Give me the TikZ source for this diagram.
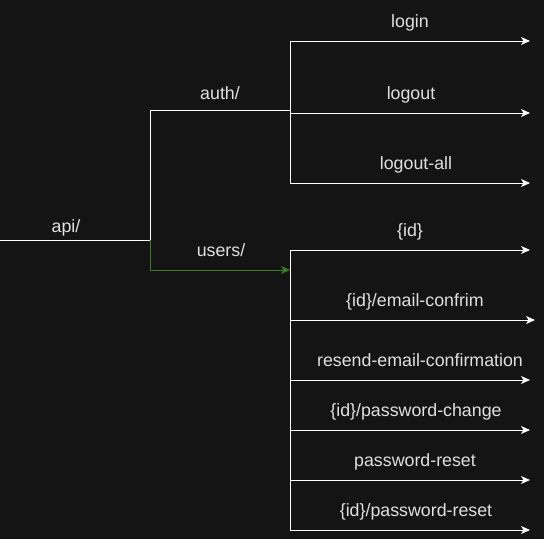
\documentclass[tikz,border=0pt]{standalone}
\usepackage{fontspec}
\setmainfont{Liberation Sans}
\usepackage{xcolor}
\usepackage{tikz}
\usetikzlibrary{arrows.meta,positioning}

\definecolor{bgdark}{HTML}{141414}
\definecolor{routegreen}{HTML}{3A7D22}
\definecolor{labelgrey}{HTML}{E0E0E0}

\begin{document}
\begin{tikzpicture}[x=1pt,y=-1pt,
    route/.style={white,line width=1pt},
    endpoint/.style={route,-{Stealth[length=9pt,width=8pt,inset=2.5pt]}},
    lbl/.style={text=labelgrey,font=\fontsize{17.8}{20}\selectfont,inner sep=0pt,
      text height=0.72em,text depth=0.21em}]
  \fill[bgdark] (0,0) rectangle (544,539);
  \useasboundingbox (0,0) rectangle (544,539);
  % junctions
  \coordinate (root) at (0,240);
  \coordinate (apisplit) at (150,240);
  \coordinate (authbend) at (150,110);
  \coordinate (authbus) at (290,110);
  \coordinate (usersbend) at (150,270);
  \coordinate (usersbus) at (290,270);
  % api/ and auth/
  \draw[route] (root) -- (apisplit) -- (authbend) -- (authbus);
  \node[lbl] (api) at (66,229.5) {api/};
  \node[lbl] (auth) at (220,96.5) {auth/};
  % users/
  \draw[routegreen,line width=1pt,-{Stealth[length=9pt,width=8pt,inset=2.5pt]}]
    (apisplit) -- (usersbend) -- (usersbus);
  \node[lbl] (users) at (221,253.5) {users/};
  % auth/ endpoints
  \foreach \y/\name/\txt/\tx in {41/login/login/410, 113/logout/logout/411,
      183/logoutall/logout-all/416} {
    \coordinate (\name-start) at (290,\y);
    \coordinate (\name-end) at (530,\y);
    \draw[endpoint] (\name-start) -- (\name-end);
    \node[lbl] (\name) at (\tx,\y-16.5) {\txt};
  }
  \draw[route] (login-start) -- (logoutall-start);
  % users/ endpoints
  \foreach \y/\name/\txt/\tx/\ex in {250/byid/{\{id\}}/410/530,
      320/emailconfirm/{\{id\}/email-confrim}/415/535,
      380/resendconfirm/{resend-email-confirmation}/420/530,
      430/pwchange/{\{id\}/password-change}/416/530,
      480/pwreset/{password-reset}/415/530,
      530/pwresetid/{\{id\}/password-reset}/416/530} {
    \coordinate (\name-start) at (290,\y);
    \coordinate (\name-end) at (\ex,\y);
    \draw[endpoint] (\name-start) -- (\name-end);
    \node[lbl] (\name) at (\tx,\y-16.5) {\txt};
  }
  \draw[route] (byid-start) -- (pwresetid-start);
\end{tikzpicture}
\end{document}
